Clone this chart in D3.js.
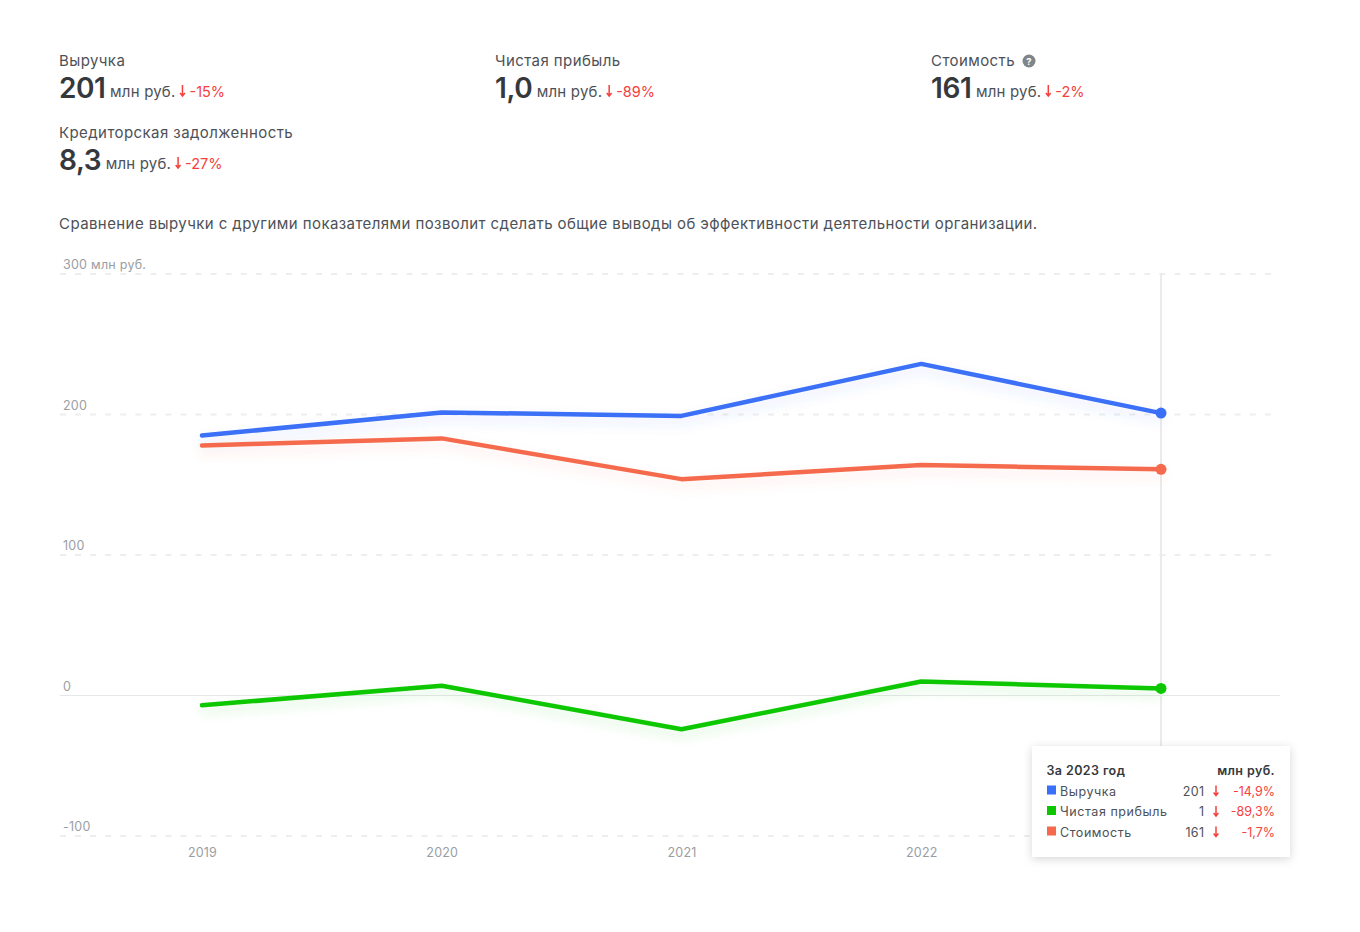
<!DOCTYPE html>
<html lang="ru">
<head>
<meta charset="utf-8">
<script src="https://cdn.jsdelivr.net/npm/d3@7"></script>
<style>
  html, body { margin: 0; background: #fff; }
  svg { display: block; font-family: Inter, "Noto Sans", sans-serif; }
</style>
</head>
<body>
<div id="chart"></div>
<script>
var years = [2019, 2020, 2021, 2022, 2023];
var revenue = [185, 201.5, 199, 236, 201];
var cost = [178, 183, 154, 164, 161];
var profit = [-7, 7, -24, 10, 5];
var yTicks = [-100, 0, 100, 200, 300];

var cards = [
  { title: "Выручка", value: "201", change: "-15%" },
  { title: "Чистая прибыль", value: "1,0", change: "-89%" },
  { title: "Стоимость", value: "161", change: "-2%" },
  { title: "Кредиторская задолженность", value: "8,3", change: "-27%" }
];
var cardX = [59, 495, 931, 59];
var cardY = [66, 66, 66, 138];

var seriesNames = ["Выручка", "Чистая прибыль", "Стоимость"];
var seriesColors = ["#3a6ff7", "#0cc700", "#f56a4d"];
var tooltipValues = ["201", "1", "161"];
var tooltipChanges = ["-14,9%", "-89,3%", "-1,7%"];

var RED = "#f5413d", DARK = "#35383c", TEXT = "#4d5157", MUTED = "#9a9ea3";

var svg = d3.select("#chart").append("svg").attr("width", 1360).attr("height", 932);

var defs = svg.append("defs");
// soft coloured shadow under each line
seriesColors.forEach(function(color, i) {
  defs.append("filter").attr("id", "glow" + i)
    .attr("filterUnits", "userSpaceOnUse")
    .attr("x", 0).attr("y", 0).attr("width", 1360).attr("height", 932)
    .append("feDropShadow").attr("dx", 0).attr("dy", 6).attr("stdDeviation", 6)
    .attr("flood-color", color).attr("flood-opacity", 0.16);
});
var boxShadow = defs.append("filter").attr("id", "boxShadow")
  .attr("x", "-10%").attr("y", "-15%").attr("width", "120%").attr("height", "135%");
boxShadow.append("feDropShadow").attr("dx", 0).attr("dy", 2).attr("stdDeviation", 5).attr("flood-color", "#000").attr("flood-opacity", 0.16);

function downArrow(g, x, y, h) {
  g.append("path")
    .attr("d", "M" + x + " " + (y - h) + "V" + y + "M" + (x - 2.4) + " " + (y - 3) + "L" + x + " " + y + "L" + (x + 2.4) + " " + (y - 3))
    .attr("fill", "none").attr("stroke", RED).attr("stroke-width", 1.5);
}

// Header cards
cards.forEach(function(c, i) {
  var g = svg.append("g").attr("transform", "translate(" + cardX[i] + "," + cardY[i] + ")");
  g.append("text").attr("font-size", 15).attr("letter-spacing", 0.42).attr("fill", TEXT).text(c.title);
  if (c.title === "Стоимость") {
    g.append("circle").attr("cx", 98).attr("cy", -5).attr("r", 6.5).attr("fill", "#80858c");
    g.append("text").attr("x", 98).attr("y", -1.5).attr("text-anchor", "middle")
      .attr("font-size", 9.5).attr("font-weight", 700).attr("fill", "#fff").text("?");
  }
  var val = g.append("text").attr("y", 32).attr("font-size", 28).attr("font-weight", 600)
    .attr("fill", DARK).attr("letter-spacing", -0.4).text(c.value);
  var x = val.node().getComputedTextLength() + 4.5;
  var unit = g.append("text").attr("x", x).attr("y", 31).attr("font-size", 15).attr("letter-spacing", 0.2).attr("fill", TEXT).text("млн руб.");
  x += unit.node().getComputedTextLength() + 7;
  downArrow(g, x, 30, 11);
  g.append("text").attr("x", x + 7).attr("y", 31).attr("font-size", 14.5).attr("fill", RED).text(c.change);
});

svg.append("text").attr("x", 59).attr("y", 229).attr("font-size", 15).attr("letter-spacing", 0.42).attr("fill", TEXT)
  .text("Сравнение выручки с другими показателями позволит сделать общие выводы об эффективности деятельности организации.");

// Scales
var x = d3.scalePoint().domain(years).range([202, 1161]);
var y = d3.scaleLinear().domain([-100, 300]).range([836, 274]);

// Grid and y labels
yTicks.forEach(function(t) {
  if (t === 0) {
    svg.append("line").attr("x1", 60).attr("x2", 1280).attr("y1", 695.5).attr("y2", 695.5).attr("stroke", "#e6e7e9");
  } else {
    svg.append("line").attr("x1", 60).attr("x2", 1272).attr("y1", y(t)).attr("y2", y(t))
      .attr("stroke", "#eeeeef").attr("stroke-width", 2).attr("stroke-dasharray", "6,9.06");
  }
  svg.append("text").attr("x", 63).attr("y", y(t) - 5).attr("font-size", 12.5).attr("letter-spacing", 0.25).attr("fill", MUTED)
    .text(t === 300 ? "300 млн руб." : t);
});

// x labels
svg.selectAll(".year").data(years).enter().append("text").attr("class", "year")
  .attr("x", function(d) { return x(d) + 0.5; }).attr("y", 857)
  .attr("text-anchor", "middle").attr("font-size", 12.5).attr("letter-spacing", 0.2).attr("fill", MUTED)
  .text(function(d) { return d; });

// Crosshair
svg.append("line").attr("x1", x(2023)).attr("x2", x(2023)).attr("y1", 273).attr("y2", 746)
  .attr("stroke", "#ebebec").attr("stroke-width", 2);

// Series
var line = d3.line()
  .x(function(d, i) { return x(years[i]); })
  .y(function(d) { return y(d); });

[revenue, profit, cost].forEach(function(values, i) {
  var color = seriesColors[i];
  svg.append("path").attr("d", line(values))
    .attr("fill", "none").attr("stroke", color).attr("stroke-width", 4.5)
    .attr("stroke-linecap", "round").attr("stroke-linejoin", "round")
    .attr("filter", "url(#glow" + i + ")");
  svg.append("circle").attr("cx", x(2023)).attr("cy", y(values[values.length - 1])).attr("r", 5.5).attr("fill", color);
});

// Tooltip
var tip = svg.append("g").attr("transform", "translate(1032,746)");
tip.append("rect").attr("width", 258).attr("height", 111).attr("fill", "#fff").attr("filter", "url(#boxShadow)");
tip.append("text").attr("x", 14.5).attr("y", 29).attr("font-size", 12.5).attr("letter-spacing", 0.4).attr("font-weight", 600).attr("fill", DARK).text("За 2023 год");
tip.append("text").attr("x", 243).attr("y", 29).attr("text-anchor", "end").attr("font-size", 12.5).attr("letter-spacing", 0.4).attr("font-weight", 600).attr("fill", DARK).text("млн руб.");
seriesNames.forEach(function(name, i) {
  var rowY = 49.5 + i * 20.5;
  tip.append("rect").attr("x", 15).attr("y", rowY - 10).attr("width", 9).attr("height", 9).attr("fill", seriesColors[i]);
  tip.append("text").attr("x", 28).attr("y", rowY).attr("font-size", 12.5).attr("letter-spacing", 0.55).attr("fill", TEXT).text(name);
  tip.append("text").attr("x", 172.5).attr("y", rowY).attr("text-anchor", "end").attr("font-size", 12.5).attr("letter-spacing", 0.4).attr("fill", TEXT).text(tooltipValues[i]);
  downArrow(tip, 184, rowY, 10);
  tip.append("text").attr("x", 243).attr("y", rowY).attr("text-anchor", "end").attr("font-size", 12.5).attr("fill", RED).text(tooltipChanges[i]);
});
</script>
</body>
</html>
